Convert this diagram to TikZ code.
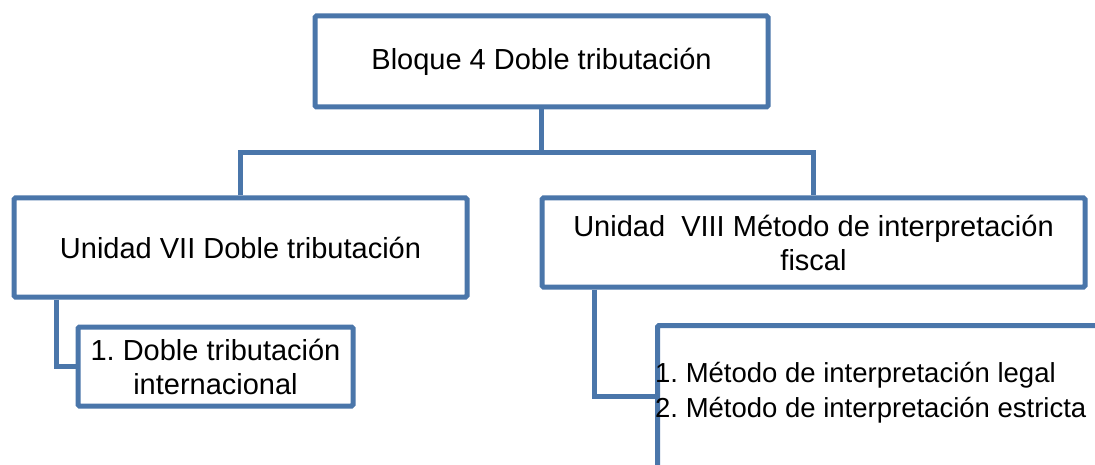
\documentclass[tikz,border=0pt]{standalone}
\usepackage{fontspec}
\setmainfont{Liberation Sans}
\usetikzlibrary{calc}
\frenchspacing
\definecolor{boxblue}{RGB}{74,118,170}
\tikzset{
  box/.style={draw=boxblue, line width=5pt, rounded corners=1.5pt, fill=white,
    inner sep=0pt, align=center, font=\fontsize{29}{34}\selectfont},
  conn/.style={draw=boxblue, line width=5pt, line join=miter},
  itemtext/.style={inner sep=0pt, align=left, anchor=west, font=\fontsize{27.5}{35}\selectfont}
}
\begin{document}
\begin{tikzpicture}[x=1pt,y=-1pt]
\useasboundingbox (0,0) rectangle (1095,465);
\fill[white] (0,0) rectangle (1095,465);
\clip (0,0) rectangle (1095,465);
\coordinate (bar) at (0,153);
\node[box, minimum width=453pt, minimum height=91pt] (top) at (541.5,61.5) {\frenchspacing Bloque 4 Doble tributación};
\node[box, minimum width=453pt, minimum height=99pt] (left) at (240.5,247.5) {\frenchspacing Unidad VII Doble tributación};
\node[box, minimum width=543pt, minimum height=89pt] (right) at (813.5,242.5) {\frenchspacing Unidad\ \ VIII Método de interpretación\\fiscal};
\node[box, minimum width=275pt, minimum height=79pt] (small) at (215.5,366.5) {\frenchspacing 1. Doble tributación\\internacional};
\node[box, anchor=north west, minimum width=600pt, minimum height=200pt] (bigbox) at (655,323) {};
\node[itemtext] (bigtext) at (655,392.5) {\frenchspacing 1. Método de interpretación legal\\2. Método de interpretación estricta};
\draw[conn] (top.south) -- (top.south |- bar);
\draw[conn] (left.north) |- (right.north |- bar) -- (right.north);
\draw[conn] ([xshift=45pt]left.south west) |- (small.west);
\draw[conn] ([xshift=55pt]right.south west) |- ([yshift=-73pt]bigbox.north west);
\end{tikzpicture}
\end{document}
